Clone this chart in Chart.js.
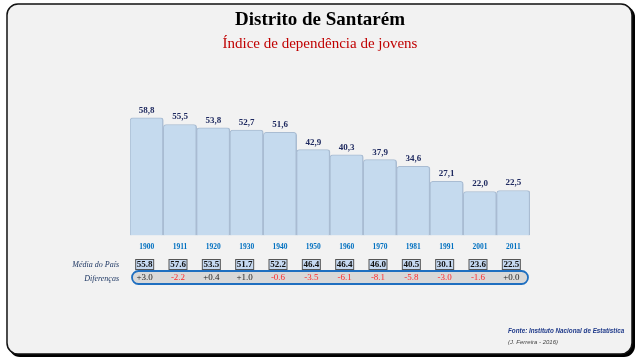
<!DOCTYPE html>
<html>
<head>
<meta charset="utf-8">
<script src="https://cdn.jsdelivr.net/npm/chart.js@4/dist/chart.umd.min.js"></script>
<style>
  html, body { margin: 0; padding: 0; background: #fff; }
  #wrap { position: relative; width: 640px; height: 360px; }
</style>
</head>
<body>
<div id="wrap"><canvas id="chart" width="640" height="360"></canvas></div>
<script>
// data
const years = ["1900", "1911", "1920", "1930", "1940", "1950", "1960", "1970", "1981", "1991", "2001", "2011"];
const districtValues = [58.8, 55.5, 53.8, 52.7, 51.6, 42.9, 40.3, 37.9, 34.6, 27.1, 22.0, 22.5];
const nationalValues = [55.8, 57.6, 53.5, 51.7, 52.2, 46.4, 46.4, 46.0, 40.5, 30.1, 23.6, 22.5];
const differences = [3.0, -2.2, 0.4, 1.0, -0.6, -3.5, -6.1, -8.1, -5.8, -3.0, -1.6, 0.0];

const SERIF = "'Liberation Serif', 'DejaVu Serif', serif";

function roundRect(ctx, x, y, w, h, r) {
  ctx.beginPath();
  ctx.moveTo(x + r, y);
  ctx.lineTo(x + w - r, y);
  ctx.arcTo(x + w, y, x + w, y + r, r);
  ctx.lineTo(x + w, y + h - r);
  ctx.arcTo(x + w, y + h, x + w - r, y + h, r);
  ctx.lineTo(x + r, y + h);
  ctx.arcTo(x, y + h, x, y + h - r, r);
  ctx.lineTo(x, y + r);
  ctx.arcTo(x, y, x + r, y, r);
  ctx.closePath();
}

// frame + titles behind the chart
const framePlugin = {
  id: "frame",
  beforeDraw(chart) {
    const ctx = chart.ctx;
    ctx.save();
    // shadow on right/bottom
    roundRect(ctx, 9, 6, 626, 351, 11);
    ctx.fillStyle = "#000";
    ctx.fill();
    roundRect(ctx, 7, 4, 625, 350, 11);
    ctx.fillStyle = "#f2f2f2";
    ctx.fill();
    ctx.lineWidth = 1.5;
    ctx.strokeStyle = "#111";
    ctx.stroke();

    ctx.textAlign = "center";
    ctx.textBaseline = "middle";
    ctx.fillStyle = "#000";
    ctx.font = "bold 19px " + SERIF;
    ctx.fillText("Distrito de Santarém", 320, 20);
    ctx.fillStyle = "#c00000";
    ctx.font = "15px " + SERIF;
    ctx.fillText("Índice de dependência de jovens", 320, 44);
    ctx.restore();
  },
  afterDraw(chart) {
    const ctx = chart.ctx;
    const x = chart.scales.x;
    ctx.save();

    // values above bars
    const meta = chart.getDatasetMeta(0);
    ctx.textAlign = "center";
    ctx.textBaseline = "bottom";
    ctx.fillStyle = "#1f2a60";
    ctx.font = "bold 9px " + SERIF;
    meta.data.forEach((bar, i) => {
      ctx.fillText(districtValues[i].toFixed(1).replace(".", ","), bar.x, bar.y - 3);
    });

    // year labels
    ctx.textBaseline = "middle";
    ctx.fillStyle = "#0070c0";
    ctx.font = "bold 7.5px " + SERIF;
    years.forEach((y, i) => ctx.fillText(y, x.getPixelForValue(i), 247));

    // row labels
    ctx.textAlign = "right";
    ctx.fillStyle = "#1f3864";
    ctx.font = "italic 8px " + SERIF;
    ctx.fillText("Média do País", 119, 265);
    ctx.fillText("Diferenças", 119, 279);

    // national average boxes
    ctx.textAlign = "center";
    ctx.font = "bold 9px " + SERIF;
    nationalValues.forEach((v, i) => {
      const cx = x.getPixelForValue(i) - 2;
      ctx.fillStyle = "#c6d9f1";
      ctx.fillRect(cx - 9, 259.5, 18, 10);
      ctx.strokeStyle = "#555";
      ctx.lineWidth = 1;
      ctx.strokeRect(cx - 9, 259.5, 18, 10);
      ctx.fillStyle = "#111";
      ctx.fillText(v.toFixed(1), cx, 265);
    });

    // differences pill
    roundRect(ctx, 132, 271, 396, 13, 6.5);
    ctx.fillStyle = "#d9d9d9";
    ctx.fill();
    ctx.strokeStyle = "#1f6fc0";
    ctx.lineWidth = 1.8;
    ctx.stroke();
    ctx.font = "9px " + SERIF;
    differences.forEach((d, i) => {
      const cx = x.getPixelForValue(i) - 2;
      ctx.fillStyle = d < 0 ? "#ff2a2a" : "#222";
      const txt = (d < 0 ? "-" : "+") + Math.abs(d).toFixed(1);
      ctx.fillText(txt, cx, 278);
    });

    // source
    ctx.textAlign = "left";
    ctx.fillStyle = "#1f3a8a";
    ctx.font = "bold italic 6.3px 'Liberation Sans', sans-serif";
    ctx.fillText("Fonte: Instituto Nacional de Estatística", 508, 331);
    ctx.fillStyle = "#444";
    ctx.font = "italic 6px 'Liberation Sans', sans-serif";
    ctx.fillText("(J. Ferreira - 2016)", 508, 342);
    ctx.restore();
  }
};

new Chart(document.getElementById("chart"), {
  type: "bar",
  data: {
    labels: years,
    datasets: [{
      data: districtValues,
      backgroundColor: "#c5daee",
      borderColor: "#a9bcd2",
      borderWidth: { top: 1, left: 1, right: 1.5, bottom: 0 },
      borderRadius: { topLeft: 3, topRight: 3 },
      borderSkipped: "bottom",
      categoryPercentage: 1,
      barPercentage: 1
    }]
  },
  options: {
    responsive: false,
    animation: false,
    layout: { padding: { left: 130, right: 110, top: 95.5, bottom: 124.5 } },
    plugins: { legend: { display: false }, tooltip: { enabled: false } },
    scales: {
      x: { display: false },
      y: { display: false, min: 0, max: 70 }
    }
  },
  plugins: [framePlugin]
});
</script>
</body>
</html>
